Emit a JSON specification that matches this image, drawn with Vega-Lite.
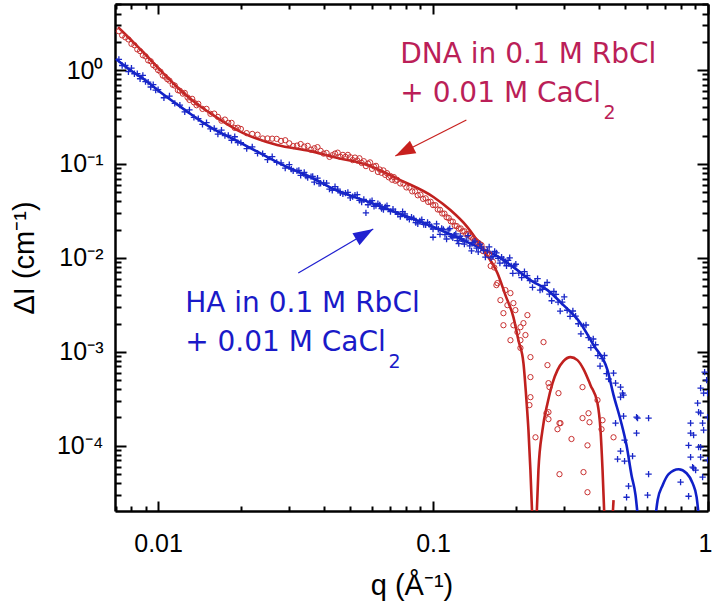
{
  "$schema": "https://vega.github.io/schema/vega-lite/v6.json",
  "autosize": "none",
  "width": 593,
  "height": 507,
  "padding": {"left": 115, "top": 4, "right": 4, "bottom": 92},
  "background": "white",
  "config": {
    "view": {"stroke": null},
    "font": "Liberation Sans",
    "axis": {"grid": false, "labelFont": "Liberation Sans", "titleFont": "Liberation Sans", "labelColor": "black", "titleColor": "black", "domainColor": "black", "tickColor": "black", "tickWidth": 2, "domainWidth": 2.5, "labelOverlap": false, "labelFlush": false}
  },
  "datasets": {
    "redLine": [
      {"seg": 1, "q": 0.00715, "I": 2.87}, {"seg": 1, "q": 0.00791, "I": 2.14}, {"seg": 1, "q": 0.00882, "I": 1.556}, {"seg": 1, "q": 0.01017, "I": 1.0}, {"seg": 1, "q": 0.01173, "I": 0.659}, {"seg": 1, "q": 0.01341, "I": 0.468}, {"seg": 1, "q": 0.01546, "I": 0.348}, {"seg": 1, "q": 0.0204, "I": 0.213}, {"seg": 1, "q": 0.0271, "I": 0.159}, {"seg": 1, "q": 0.0358, "I": 0.137}, {"seg": 1, "q": 0.0434, "I": 0.1185}, {"seg": 1, "q": 0.0577, "I": 0.0977}, {"seg": 1, "q": 0.076, "I": 0.0674}, {"seg": 1, "q": 0.1003, "I": 0.0445}, {"seg": 1, "q": 0.1156, "I": 0.0323}, {"seg": 1, "q": 0.1333, "I": 0.0213}, {"seg": 1, "q": 0.1525, "I": 0.0121}, {"seg": 1, "q": 0.1714, "I": 0.00689}, {"seg": 1, "q": 0.1833, "I": 0.00402}, {"seg": 1, "q": 0.196, "I": 0.00234}, {"seg": 1, "q": 0.2044, "I": 0.00133}, {"seg": 1, "q": 0.2132, "I": 0.000758}, {"seg": 1, "q": 0.2186, "I": 0.000306}, {"seg": 1, "q": 0.2223, "I": 0.000147}, {"seg": 1, "q": 0.226, "I": 0.000055}, {"seg": 1, "q": 0.2298, "I": 0.000016},
      {"seg": 2, "q": 0.2377, "I": 0.000016}, {"seg": 2, "q": 0.2417, "I": 0.000055}, {"seg": 2, "q": 0.25, "I": 0.000147}, {"seg": 2, "q": 0.2608, "I": 0.000284}, {"seg": 2, "q": 0.272, "I": 0.000464}, {"seg": 2, "q": 0.2835, "I": 0.000638}, {"seg": 2, "q": 0.298, "I": 0.000796}, {"seg": 2, "q": 0.316, "I": 0.000879}, {"seg": 2, "q": 0.335, "I": 0.000816}, {"seg": 2, "q": 0.3525, "I": 0.000655}, {"seg": 2, "q": 0.3738, "I": 0.000442}, {"seg": 2, "q": 0.3963, "I": 0.000284}, {"seg": 2, "q": 0.4065, "I": 0.000147}, {"seg": 2, "q": 0.4135, "I": 0.000055}, {"seg": 2, "q": 0.4204, "I": 0.000016},
      {"seg": 3, "q": 0.449, "I": 0.000016}, {"seg": 3, "q": 0.4534, "I": 0.0000264}
    ],
    "blueLine": [
      {"seg": 1, "q": 0.00703, "I": 1.31}, {"seg": 1, "q": 0.00791, "I": 1.0}, {"seg": 1, "q": 0.00897, "I": 0.783}, {"seg": 1, "q": 0.01017, "I": 0.583}, {"seg": 1, "q": 0.01254, "I": 0.375}, {"seg": 1, "q": 0.01546, "I": 0.247}, {"seg": 1, "q": 0.01907, "I": 0.18}, {"seg": 1, "q": 0.0235, "I": 0.1306}, {"seg": 1, "q": 0.029, "I": 0.095}, {"seg": 1, "q": 0.0358, "I": 0.0726}, {"seg": 1, "q": 0.0434, "I": 0.0541}, {"seg": 1, "q": 0.0577, "I": 0.0398}, {"seg": 1, "q": 0.076, "I": 0.0293}, {"seg": 1, "q": 0.1003, "I": 0.0213}, {"seg": 1, "q": 0.1333, "I": 0.01473}, {"seg": 1, "q": 0.1758, "I": 0.00995}, {"seg": 1, "q": 0.196, "I": 0.00798}, {"seg": 1, "q": 0.226, "I": 0.0058}, {"seg": 1, "q": 0.2608, "I": 0.00454}, {"seg": 1, "q": 0.298, "I": 0.00314}, {"seg": 1, "q": 0.3437, "I": 0.00202}, {"seg": 1, "q": 0.3835, "I": 0.00118}, {"seg": 1, "q": 0.431, "I": 0.000638}, {"seg": 1, "q": 0.4534, "I": 0.000346}, {"seg": 1, "q": 0.481, "I": 0.000187}, {"seg": 1, "q": 0.5055, "I": 0.000101}, {"seg": 1, "q": 0.527, "I": 0.0000486}, {"seg": 1, "q": 0.545, "I": 0.0000298}, {"seg": 1, "q": 0.559, "I": 0.0000143},
      {"seg": 2, "q": 0.639, "I": 0.0000143}, {"seg": 2, "q": 0.656, "I": 0.0000264}, {"seg": 2, "q": 0.684, "I": 0.000038}, {"seg": 2, "q": 0.719, "I": 0.0000499}, {"seg": 2, "q": 0.782, "I": 0.0000563}, {"seg": 2, "q": 0.836, "I": 0.000051}, {"seg": 2, "q": 0.879, "I": 0.00004}, {"seg": 2, "q": 0.909, "I": 0.0000284}, {"seg": 2, "q": 0.932, "I": 0.0000143}
    ],
    "redPts": [
      {"q": 0.0072, "I": 2.59}, {"q": 0.0074, "I": 2.34}, {"q": 0.0076, "I": 2.23}, {"q": 0.0078, "I": 2.12}, {"q": 0.008, "I": 1.9}, {"q": 0.0082, "I": 1.84}, {"q": 0.0084, "I": 1.66}, {"q": 0.0086, "I": 1.59}, {"q": 0.0088, "I": 1.44}, {"q": 0.009, "I": 1.4}, {"q": 0.0092, "I": 1.27}, {"q": 0.0094, "I": 1.24}, {"q": 0.0096, "I": 1.13}, {"q": 0.0098, "I": 1.08}, {"q": 0.01, "I": 1.0}, {"q": 0.0102, "I": 0.961}, {"q": 0.0104, "I": 0.874}, {"q": 0.0106, "I": 0.851}, {"q": 0.0108, "I": 0.8}, {"q": 0.011, "I": 0.771}, {"q": 0.0113, "I": 0.698}, {"q": 0.0115, "I": 0.684}, {"q": 0.0118, "I": 0.611}, {"q": 0.012, "I": 0.602}, {"q": 0.0123, "I": 0.561}, {"q": 0.0125, "I": 0.571}, {"q": 0.0128, "I": 0.511}, {"q": 0.013, "I": 0.481}, {"q": 0.0133, "I": 0.494}, {"q": 0.0135, "I": 0.453}, {"q": 0.0138, "I": 0.422}, {"q": 0.014, "I": 0.437}, {"q": 0.0145, "I": 0.386}, {"q": 0.015, "I": 0.386}, {"q": 0.0155, "I": 0.342}, {"q": 0.016, "I": 0.344}, {"q": 0.0165, "I": 0.317}, {"q": 0.017, "I": 0.289}, {"q": 0.0175, "I": 0.297}, {"q": 0.018, "I": 0.274}, {"q": 0.0185, "I": 0.274}, {"q": 0.019, "I": 0.242}, {"q": 0.0195, "I": 0.243}, {"q": 0.02, "I": 0.236}, {"q": 0.021, "I": 0.213}, {"q": 0.022, "I": 0.209}, {"q": 0.023, "I": 0.205}, {"q": 0.024, "I": 0.187}, {"q": 0.025, "I": 0.187}, {"q": 0.026, "I": 0.186}, {"q": 0.027, "I": 0.185}, {"q": 0.028, "I": 0.176}, {"q": 0.029, "I": 0.179}, {"q": 0.03, "I": 0.166}, {"q": 0.031, "I": 0.155}, {"q": 0.032, "I": 0.157}, {"q": 0.033, "I": 0.163}, {"q": 0.034, "I": 0.153}, {"q": 0.035, "I": 0.156}, {"q": 0.036, "I": 0.142}, {"q": 0.037, "I": 0.147}, {"q": 0.038, "I": 0.151}, {"q": 0.039, "I": 0.138}, {"q": 0.04, "I": 0.129}, {"q": 0.041, "I": 0.131}, {"q": 0.042, "I": 0.119}, {"q": 0.043, "I": 0.124}, {"q": 0.044, "I": 0.129}, {"q": 0.045, "I": 0.132}, {"q": 0.046, "I": 0.119}, {"q": 0.047, "I": 0.125}, {"q": 0.048, "I": 0.119}, {"q": 0.049, "I": 0.125}, {"q": 0.05, "I": 0.118}, {"q": 0.051, "I": 0.11}, {"q": 0.052, "I": 0.117}, {"q": 0.053, "I": 0.109}, {"q": 0.054, "I": 0.115}, {"q": 0.055, "I": 0.1025}, {"q": 0.056, "I": 0.107}, {"q": 0.057, "I": 0.0949}, {"q": 0.058, "I": 0.101}, {"q": 0.059, "I": 0.104}, {"q": 0.06, "I": 0.0887}, {"q": 0.061, "I": 0.094}, {"q": 0.062, "I": 0.0955}, {"q": 0.063, "I": 0.0823}, {"q": 0.064, "I": 0.0873}, {"q": 0.065, "I": 0.0805}, {"q": 0.066, "I": 0.0854}, {"q": 0.067, "I": 0.0765}, {"q": 0.068, "I": 0.0798}, {"q": 0.069, "I": 0.0721}, {"q": 0.07, "I": 0.0744}, {"q": 0.071, "I": 0.0679}, {"q": 0.072, "I": 0.0725}, {"q": 0.073, "I": 0.0662}, {"q": 0.074, "I": 0.0678}, {"q": 0.076, "I": 0.062}, {"q": 0.078, "I": 0.0617}, {"q": 0.08, "I": 0.0563}, {"q": 0.082, "I": 0.056}, {"q": 0.084, "I": 0.0511}, {"q": 0.086, "I": 0.051}, {"q": 0.088, "I": 0.0464}, {"q": 0.09, "I": 0.0471}, {"q": 0.092, "I": 0.0425}, {"q": 0.094, "I": 0.0431}, {"q": 0.096, "I": 0.0394}, {"q": 0.098, "I": 0.0396}, {"q": 0.1, "I": 0.0365}, {"q": 0.102, "I": 0.0364}, {"q": 0.104, "I": 0.0328}, {"q": 0.106, "I": 0.0325}, {"q": 0.108, "I": 0.0297}, {"q": 0.11, "I": 0.0296}, {"q": 0.112, "I": 0.0271}, {"q": 0.114, "I": 0.0266}, {"q": 0.116, "I": 0.0245}, {"q": 0.118, "I": 0.0243}, {"q": 0.12, "I": 0.022}, {"q": 0.122, "I": 0.0218}, {"q": 0.124, "I": 0.0205}, {"q": 0.126, "I": 0.0206}, {"q": 0.128, "I": 0.0192}, {"q": 0.13, "I": 0.0192}, {"q": 0.132, "I": 0.0179}, {"q": 0.134, "I": 0.0179}, {"q": 0.136, "I": 0.0172}, {"q": 0.138, "I": 0.0166}, {"q": 0.14, "I": 0.0159}, {"q": 0.142, "I": 0.0155}, {"q": 0.144, "I": 0.0149}, {"q": 0.146, "I": 0.0145}, {"q": 0.148, "I": 0.014}, {"q": 0.15, "I": 0.0137}, {"q": 0.152, "I": 0.0118}, {"q": 0.155, "I": 0.0123}, {"q": 0.157, "I": 0.011}, {"q": 0.16, "I": 0.011}, {"q": 0.162, "I": 0.0082}, {"q": 0.165, "I": 0.0091}, {"q": 0.167, "I": 0.0079},
      {"q": 0.1714, "I": 0.00539}, {"q": 0.17, "I": 0.00513}, {"q": 0.1758, "I": 0.00355}, {"q": 0.1833, "I": 0.00454}, {"q": 0.1803, "I": 0.00258}, {"q": 0.1912, "I": 0.00422}, {"q": 0.196, "I": 0.0033}, {"q": 0.1864, "I": 0.00314}, {"q": 0.1993, "I": 0.00278}, {"q": 0.1803, "I": 0.00192}, {"q": 0.196, "I": 0.00192}, {"q": 0.2079, "I": 0.00183}, {"q": 0.2204, "I": 0.00246}, {"q": 0.2132, "I": 0.00202}, {"q": 0.2027, "I": 0.00162}, {"q": 0.2168, "I": 0.00151}, {"q": 0.1912, "I": 0.00133}, {"q": 0.2079, "I": 0.00133}, {"q": 0.2079, "I": 0.0011}, {"q": 0.2261, "I": 0.000878}, {"q": 0.2522, "I": 0.00127}, {"q": 0.2607, "I": 0.000722}, {"q": 0.2261, "I": 0.000538}, {"q": 0.2261, "I": 0.000329}, {"q": 0.2629, "I": 0.000464}, {"q": 0.2651, "I": 0.000421}, {"q": 0.2859, "I": 0.000363}, {"q": 0.2629, "I": 0.000228}, {"q": 0.2585, "I": 0.000222}, {"q": 0.2629, "I": 0.000192}, {"q": 0.3496, "I": 0.000421}, {"q": 0.3676, "I": 0.000222}, {"q": 0.3964, "I": 0.000306}, {"q": 0.4134, "I": 0.000187}, {"q": 0.2907, "I": 0.000174}, {"q": 0.2358, "I": 0.000123}, {"q": 0.2883, "I": 0.000174}, {"q": 0.2835, "I": 0.00015}, {"q": 0.3188, "I": 0.000118}, {"q": 0.2883, "I": 0.0000498}, {"q": 0.3496, "I": 0.000197}, {"q": 0.3707, "I": 0.000178}, {"q": 0.41, "I": 0.00015}, {"q": 0.3645, "I": 0.000101}, {"q": 0.3525, "I": 0.0000524}, {"q": 0.3645, "I": 0.000032}, {"q": 0.4533, "I": 0.000123}, {"q": 0.2242, "I": 0.000271}
    ],
    "bluePts": [
      {"q": 0.0072, "I": 1.3}, {"q": 0.0074, "I": 1.118}, {"q": 0.0076, "I": 1.118}, {"q": 0.0078, "I": 0.96}, {"q": 0.008, "I": 1.046}, {"q": 0.0082, "I": 0.913}, {"q": 0.0084, "I": 0.916}, {"q": 0.0086, "I": 0.808}, {"q": 0.0088, "I": 0.878}, {"q": 0.009, "I": 0.754}, {"q": 0.0092, "I": 0.745}, {"q": 0.0094, "I": 0.66}, {"q": 0.0096, "I": 0.701}, {"q": 0.0098, "I": 0.611}, {"q": 0.01, "I": 0.619}, {"q": 0.0105, "I": 0.507}, {"q": 0.011, "I": 0.529}, {"q": 0.0115, "I": 0.441}, {"q": 0.012, "I": 0.423}, {"q": 0.0125, "I": 0.359}, {"q": 0.013, "I": 0.377}, {"q": 0.0135, "I": 0.314}, {"q": 0.014, "I": 0.304}, {"q": 0.0145, "I": 0.264}, {"q": 0.015, "I": 0.276}, {"q": 0.0155, "I": 0.236}, {"q": 0.016, "I": 0.239}, {"q": 0.0165, "I": 0.208}, {"q": 0.017, "I": 0.229}, {"q": 0.0175, "I": 0.201}, {"q": 0.018, "I": 0.202}, {"q": 0.0185, "I": 0.179}, {"q": 0.019, "I": 0.195}, {"q": 0.0195, "I": 0.169}, {"q": 0.02, "I": 0.169}, {"q": 0.021, "I": 0.146}, {"q": 0.022, "I": 0.152}, {"q": 0.023, "I": 0.13}, {"q": 0.024, "I": 0.129}, {"q": 0.025, "I": 0.111}, {"q": 0.026, "I": 0.12}, {"q": 0.027, "I": 0.104}, {"q": 0.028, "I": 0.103}, {"q": 0.029, "I": 0.0903}, {"q": 0.03, "I": 0.0983}, {"q": 0.031, "I": 0.0846}, {"q": 0.032, "I": 0.0846}, {"q": 0.033, "I": 0.0757}, {"q": 0.034, "I": 0.0814}, {"q": 0.035, "I": 0.0716}, {"q": 0.036, "I": 0.0733}, {"q": 0.037, "I": 0.0641}, {"q": 0.038, "I": 0.0708}, {"q": 0.039, "I": 0.0623}, {"q": 0.04, "I": 0.063}, {"q": 0.042, "I": 0.054}, {"q": 0.044, "I": 0.0575}, {"q": 0.046, "I": 0.0492}, {"q": 0.048, "I": 0.049}, {"q": 0.05, "I": 0.0436}, {"q": 0.052, "I": 0.0467}, {"q": 0.054, "I": 0.041}, {"q": 0.056, "I": 0.0419}, {"q": 0.057, "I": 0.0302}, {"q": 0.058, "I": 0.0368}, {"q": 0.06, "I": 0.0408}, {"q": 0.062, "I": 0.036}, {"q": 0.064, "I": 0.0366}, {"q": 0.066, "I": 0.0326}, {"q": 0.068, "I": 0.0359}, {"q": 0.07, "I": 0.0311}, {"q": 0.073, "I": 0.031}, {"q": 0.076, "I": 0.0275}, {"q": 0.079, "I": 0.0294}, {"q": 0.082, "I": 0.0258}, {"q": 0.085, "I": 0.0263}, {"q": 0.088, "I": 0.023}, {"q": 0.091, "I": 0.0255}, {"q": 0.094, "I": 0.0225}, {"q": 0.097, "I": 0.0228}, {"q": 0.1, "I": 0.0203},
      {"q": 0.103, "I": 0.023}, {"q": 0.106, "I": 0.0178}, {"q": 0.109, "I": 0.0201}, {"q": 0.112, "I": 0.0159}, {"q": 0.115, "I": 0.0205}, {"q": 0.118, "I": 0.0164}, {"q": 0.121, "I": 0.018}, {"q": 0.124, "I": 0.0142}, {"q": 0.127, "I": 0.016}, {"q": 0.13, "I": 0.014}, {"q": 0.134, "I": 0.0173}, {"q": 0.138, "I": 0.0119}, {"q": 0.142, "I": 0.0151}, {"q": 0.146, "I": 0.0116}, {"q": 0.15, "I": 0.0131}, {"q": 0.155, "I": 0.0102}, {"q": 0.16, "I": 0.0131}, {"q": 0.165, "I": 0.0103}, {"q": 0.17, "I": 0.0113}, {"q": 0.175, "I": 0.00882}, {"q": 0.18, "I": 0.00968}, {"q": 0.185, "I": 0.00825}, {"q": 0.19, "I": 0.01003}, {"q": 0.195, "I": 0.00686}, {"q": 0.2, "I": 0.00856}, {"q": 0.21, "I": 0.00617}, {"q": 0.22, "I": 0.00648}, {"q": 0.23, "I": 0.00485}, {"q": 0.24, "I": 0.00603}, {"q": 0.25, "I": 0.00464}, {"q": 0.26, "I": 0.00547}, {"q": 0.27, "I": 0.0035}, {"q": 0.28, "I": 0.0041}, {"q": 0.29, "I": 0.00271}, {"q": 0.3, "I": 0.00385}, {"q": 0.315, "I": 0.00239}, {"q": 0.33, "I": 0.0024}, {"q": 0.345, "I": 0.00155}, {"q": 0.36, "I": 0.00193}, {"q": 0.375, "I": 0.00111}, {"q": 0.39, "I": 0.00119}, {"q": 0.405, "I": 0.000706}, {"q": 0.42, "I": 0.000914}, {"q": 0.435, "I": 0.000514},
      {"q": 0.1045, "I": 0.0202}, {"q": 0.1075, "I": 0.0206}, {"q": 0.1105, "I": 0.0177}, {"q": 0.1135, "I": 0.0199}, {"q": 0.1165, "I": 0.017}, {"q": 0.1195, "I": 0.0175}, {"q": 0.1225, "I": 0.0153}, {"q": 0.1255, "I": 0.017}, {"q": 0.1285, "I": 0.0151}, {"q": 0.132, "I": 0.0155}, {"q": 0.136, "I": 0.0134}, {"q": 0.14, "I": 0.0146}, {"q": 0.144, "I": 0.0127}, {"q": 0.148, "I": 0.014}, {"q": 0.1525, "I": 0.012}, {"q": 0.1575, "I": 0.0119}, {"q": 0.1625, "I": 0.01}, {"q": 0.1675, "I": 0.0117}, {"q": 0.1725, "I": 0.0099}, {"q": 0.1775, "I": 0.0102}, {"q": 0.1825, "I": 0.00884}, {"q": 0.1875, "I": 0.00943}, {"q": 0.1925, "I": 0.0082}, {"q": 0.1975, "I": 0.00824}, {"q": 0.205, "I": 0.00688}, {"q": 0.215, "I": 0.00715}, {"q": 0.225, "I": 0.00572}, {"q": 0.235, "I": 0.00566}, {"q": 0.245, "I": 0.00455}, {"q": 0.255, "I": 0.0051}, {"q": 0.265, "I": 0.00412}, {"q": 0.275, "I": 0.00439}, {"q": 0.285, "I": 0.00338}, {"q": 0.295, "I": 0.00339}, {"q": 0.3075, "I": 0.00277}, {"q": 0.3225, "I": 0.00272}, {"q": 0.3375, "I": 0.00199}, {"q": 0.3525, "I": 0.00189}, {"q": 0.3675, "I": 0.00142}, {"q": 0.3825, "I": 0.00137}, {"q": 0.3975, "I": 0.000912}, {"q": 0.4125, "I": 0.000845}, {"q": 0.4275, "I": 0.000585},
      {"q": 0.0305, "I": 0.0881}, {"q": 0.0325, "I": 0.0854}, {"q": 0.0345, "I": 0.0745}, {"q": 0.0365, "I": 0.0739}, {"q": 0.0385, "I": 0.0617}, {"q": 0.041, "I": 0.0625}, {"q": 0.043, "I": 0.0523}, {"q": 0.045, "I": 0.0541}, {"q": 0.047, "I": 0.0481}, {"q": 0.049, "I": 0.0498}, {"q": 0.051, "I": 0.0449}, {"q": 0.053, "I": 0.0471}, {"q": 0.055, "I": 0.0394}, {"q": 0.059, "I": 0.0396}, {"q": 0.061, "I": 0.0355}, {"q": 0.063, "I": 0.0379}, {"q": 0.065, "I": 0.0335}, {"q": 0.067, "I": 0.035}, {"q": 0.0715, "I": 0.033}, {"q": 0.0745, "I": 0.0291}, {"q": 0.0775, "I": 0.031}, {"q": 0.0805, "I": 0.0269}, {"q": 0.0835, "I": 0.0271}, {"q": 0.0865, "I": 0.0237}, {"q": 0.0895, "I": 0.0248}, {"q": 0.0925, "I": 0.0227}, {"q": 0.0955, "I": 0.0239}, {"q": 0.0985, "I": 0.0215}, {"q": 0.1, "I": 0.0166},
      {"q": 0.4533, "I": 0.000593}, {"q": 0.4611, "I": 0.000464}, {"q": 0.4808, "I": 0.000421}, {"q": 0.4889, "I": 0.000363}, {"q": 0.4808, "I": 0.000329}, {"q": 0.493, "I": 0.000346}, {"q": 0.5543, "I": 0.000197}, {"q": 0.608, "I": 0.000197}, {"q": 0.4611, "I": 0.000174}, {"q": 0.493, "I": 0.000207}, {"q": 0.5497, "I": 0.000202}, {"q": 0.5497, "I": 0.000136}, {"q": 0.4972, "I": 0.000115}, {"q": 0.4808, "I": 0.0000876}, {"q": 0.4689, "I": 0.000072}, {"q": 0.4972, "I": 0.0000686}, {"q": 0.5316, "I": 0.0000775}, {"q": 0.608, "I": 0.0000498}, {"q": 0.5141, "I": 0.0000371}, {"q": 0.5056, "I": 0.0000283}, {"q": 0.6029, "I": 0.0000298}, {"q": 0.8644, "I": 0.000174}, {"q": 0.9167, "I": 0.000284}, {"q": 0.9243, "I": 0.000228}, {"q": 0.8864, "I": 0.00013}, {"q": 0.94, "I": 0.0000966}, {"q": 0.8644, "I": 0.0000756}, {"q": 0.8864, "I": 0.0000577}, {"q": 0.85, "I": 0.000029}, {"q": 0.7948, "I": 0.000041}, {"q": 0.9968, "I": 0.000202}, {"q": 0.9639, "I": 0.000363}, {"q": 0.85, "I": 0.000101}, {"q": 0.8644, "I": 0.000136}, {"q": 0.879, "I": 0.0000592}, {"q": 0.9014, "I": 0.000055}, {"q": 0.94, "I": 0.000222}, {"q": 0.9558, "I": 0.000174}, {"q": 0.9639, "I": 0.000147}, {"q": 0.9243, "I": 0.0000966}, {"q": 0.94, "I": 0.0000756}, {"q": 0.9558, "I": 0.0000463}, {"q": 0.9968, "I": 0.000363}, {"q": 0.9968, "I": 0.0000702}, {"q": 0.972, "I": 0.000608}, {"q": 0.9884, "I": 0.0005}, {"q": 0.94, "I": 0.000411}
    ],
    "arrows": [
      {"series": "DNA", "q": 0.1322, "I": 0.2935, "q2": 0.0729, "I2": 0.1214},
      {"series": "HA", "q": 0.03234, "I": 0.00689, "q2": 0.0606, "I2": 0.02026}
    ],
    "notes": [
      {"series": "DNA", "part": "main", "q": 0.076, "I": 1.188, "text": "DNA in 0.1 M RbCl"},
      {"series": "DNA", "part": "main", "q": 0.076, "I": 0.4564, "text": "+ 0.01 M CaCl"},
      {"series": "DNA", "part": "sub", "q": 0.417, "I": 0.3008, "text": "2"},
      {"series": "HA", "part": "main", "q": 0.01254, "I": 0.002647, "text": "HA in 0.1 M RbCl"},
      {"series": "HA", "part": "main", "q": 0.01254, "I": 0.001017, "text": "+ 0.01 M CaCl"},
      {"series": "HA", "part": "sub", "q": 0.0689, "I": 0.000666, "text": "2"}
    ]
  },
  "resolve": {"axis": {"x": "independent", "y": "independent"}},
  "layer": [
    {
      "data": {"name": "redLine"},
      "mark": {"type": "line", "color": "#c0201e", "strokeWidth": 2.6, "interpolate": "monotone", "clip": true},
      "encoding": {
        "x": {"field": "q", "type": "quantitative", "scale": {"type": "log", "domain": [0.00697, 1.0], "nice": false},
          "axis": {"orient": "bottom", "values": [0.01, 0.1, 1], "labelFontSize": 25,
            "labelExpr": "datum.value > 0.5 ? '1' : datum.value > 0.05 ? '0.1' : '0.01'",
            "labelOffset": {"condition": {"test": "datum.value > 0.5", "value": -3}, "value": 0},
            "tickSize": -10, "tickColor": "black", "labelPadding": 30,
            "title": "q  (Å⁻¹)", "titleFontSize": 29, "titleFontWeight": "normal", "titlePadding": 15}},
        "y": {"field": "I", "type": "quantitative", "scale": {"type": "log", "domain": [0.0000202, 5.05], "nice": false},
          "axis": {"orient": "left", "values": [0.0001, 0.001, 0.01, 0.1, 1], "labelFontSize": 25,
            "labelExpr": "'10' + (round(log(datum.value)/LN10) < 0 ? '⁻' : '') + ['⁰','¹','²','³','⁴','⁵'][abs(round(log(datum.value)/LN10))]",
            "tickSize": -11, "tickColor": "black", "labelPadding": 23,
            "title": "ΔI  (cm⁻¹)", "titleFontSize": 29, "titleFontWeight": "normal", "titlePadding": 17}},
        "detail": {"field": "seg", "type": "nominal"}
      }
    },
    {
      "data": {"name": "blueLine"},
      "mark": {"type": "line", "color": "#1020c8", "strokeWidth": 2.6, "interpolate": "monotone", "clip": true},
      "encoding": {
        "x": {"field": "q", "type": "quantitative", "scale": {"type": "log", "domain": [0.00697, 1.0], "nice": false},
          "axis": {"orient": "top", "values": [0.01, 0.1, 1], "labels": false, "title": null, "tickSize": -10, "tickColor": "black"}},
        "y": {"field": "I", "type": "quantitative", "scale": {"type": "log", "domain": [0.0000202, 5.05], "nice": false},
          "axis": {"orient": "right", "values": [0.0001, 0.001, 0.01, 0.1, 1], "labels": false, "title": null, "tickSize": -11, "tickColor": "black"}},
        "detail": {"field": "seg", "type": "nominal"}
      }
    },
    {
      "data": {"name": "redPts"},
      "mark": {"type": "point", "shape": "circle", "filled": false, "size": 28, "strokeWidth": 1, "color": "#c83030", "opacity": 1, "clip": true},
      "encoding": {
        "x": {"field": "q", "type": "quantitative",
          "axis": {"orient": "bottom", "values": [0.007, 0.008, 0.009, 0.02, 0.03, 0.04, 0.05, 0.06, 0.07, 0.08, 0.09, 0.2, 0.3, 0.4, 0.5, 0.6, 0.7, 0.8, 0.9], "labels": false, "title": null, "domain": false, "tickSize": -5, "tickColor": "black"}},
        "y": {"field": "I", "type": "quantitative",
          "axis": {"orient": "left", "values": [0.00003, 0.00004, 0.00005, 0.00006, 0.00007, 0.00008, 0.00009, 0.0002, 0.0003, 0.0004, 0.0005, 0.0006, 0.0007, 0.0008, 0.0009, 0.002, 0.003, 0.004, 0.005, 0.006, 0.007, 0.008, 0.009, 0.02, 0.03, 0.04, 0.05, 0.06, 0.07, 0.08, 0.09, 0.2, 0.3, 0.4, 0.5, 0.6, 0.7, 0.8, 0.9, 2, 3, 4, 5], "labels": false, "title": null, "domain": false, "tickSize": -6, "tickColor": "black"}}
      }
    },
    {
      "data": {"name": "bluePts"},
      "mark": {"type": "point", "shape": "M-1,0L1,0M0,-1L0,1", "filled": false, "size": 40, "strokeWidth": 1.3, "color": "#1a28c8", "opacity": 1, "clip": true},
      "encoding": {
        "x": {"field": "q", "type": "quantitative",
          "axis": {"orient": "top", "values": [0.007, 0.008, 0.009, 0.02, 0.03, 0.04, 0.05, 0.06, 0.07, 0.08, 0.09, 0.2, 0.3, 0.4, 0.5, 0.6, 0.7, 0.8, 0.9], "labels": false, "title": null, "domain": false, "tickSize": -5, "tickColor": "black"}},
        "y": {"field": "I", "type": "quantitative",
          "axis": {"orient": "right", "values": [0.00003, 0.00004, 0.00005, 0.00006, 0.00007, 0.00008, 0.00009, 0.0002, 0.0003, 0.0004, 0.0005, 0.0006, 0.0007, 0.0008, 0.0009, 0.002, 0.003, 0.004, 0.005, 0.006, 0.007, 0.008, 0.009, 0.02, 0.03, 0.04, 0.05, 0.06, 0.07, 0.08, 0.09, 0.2, 0.3, 0.4, 0.5, 0.6, 0.7, 0.8, 0.9, 2, 3, 4, 5], "labels": false, "title": null, "domain": false, "tickSize": -6, "tickColor": "black"}}
      }
    },
    {
      "data": {"name": "arrows"},
      "transform": [{"filter": "datum.series == 'DNA'"}],
      "mark": {"type": "rule", "color": "#c8201e", "strokeWidth": 1.2},
      "encoding": {
        "x": {"field": "q", "type": "quantitative", "axis": null},
        "y": {"field": "I", "type": "quantitative", "axis": null},
        "x2": {"field": "q2"},
        "y2": {"field": "I2"}
      }
    },
    {
      "data": {"name": "arrows"},
      "transform": [{"filter": "datum.series == 'HA'"}],
      "mark": {"type": "rule", "color": "#2020d0", "strokeWidth": 1.2},
      "encoding": {
        "x": {"field": "q", "type": "quantitative", "axis": null},
        "y": {"field": "I", "type": "quantitative", "axis": null},
        "x2": {"field": "q2"},
        "y2": {"field": "I2"}
      }
    },
    {
      "data": {"name": "arrows"},
      "transform": [{"filter": "datum.series == 'DNA'"}],
      "mark": {"type": "point", "shape": "M0,0L0.35,1L-0.35,1Z", "filled": true, "size": 1600, "angle": 243, "color": "#c8201e", "opacity": 1},
      "encoding": {
        "x": {"field": "q2", "type": "quantitative", "axis": null},
        "y": {"field": "I2", "type": "quantitative", "axis": null}
      }
    },
    {
      "data": {"name": "arrows"},
      "transform": [{"filter": "datum.series == 'HA'"}],
      "mark": {"type": "point", "shape": "M0,0L0.35,1L-0.35,1Z", "filled": true, "size": 1600, "angle": 59.6, "color": "#2020d0", "opacity": 1},
      "encoding": {
        "x": {"field": "q2", "type": "quantitative", "axis": null},
        "y": {"field": "I2", "type": "quantitative", "axis": null}
      }
    },
    {
      "data": {"name": "notes"},
      "transform": [{"filter": "datum.series == 'DNA' && datum.part == 'main'"}],
      "mark": {"type": "text", "align": "left", "baseline": "alphabetic", "font": "DejaVu Sans", "fontSize": 28, "color": "#bb1f58"},
      "encoding": {
        "x": {"field": "q", "type": "quantitative", "axis": null},
        "y": {"field": "I", "type": "quantitative", "axis": null},
        "text": {"field": "text"}
      }
    },
    {
      "data": {"name": "notes"},
      "transform": [{"filter": "datum.series == 'DNA' && datum.part == 'sub'"}],
      "mark": {"type": "text", "align": "left", "baseline": "alphabetic", "font": "DejaVu Sans", "fontSize": 19, "color": "#bb1f58"},
      "encoding": {
        "x": {"field": "q", "type": "quantitative", "axis": null},
        "y": {"field": "I", "type": "quantitative", "axis": null},
        "text": {"field": "text"}
      }
    },
    {
      "data": {"name": "notes"},
      "transform": [{"filter": "datum.series == 'HA' && datum.part == 'main'"}],
      "mark": {"type": "text", "align": "left", "baseline": "alphabetic", "font": "DejaVu Sans", "fontSize": 28, "color": "#1a1ac8"},
      "encoding": {
        "x": {"field": "q", "type": "quantitative", "axis": null},
        "y": {"field": "I", "type": "quantitative", "axis": null},
        "text": {"field": "text"}
      }
    },
    {
      "data": {"name": "notes"},
      "transform": [{"filter": "datum.series == 'HA' && datum.part == 'sub'"}],
      "mark": {"type": "text", "align": "left", "baseline": "alphabetic", "font": "DejaVu Sans", "fontSize": 19, "color": "#1a1ac8"},
      "encoding": {
        "x": {"field": "q", "type": "quantitative", "axis": null},
        "y": {"field": "I", "type": "quantitative", "axis": null},
        "text": {"field": "text"}
      }
    }
  ]
}
